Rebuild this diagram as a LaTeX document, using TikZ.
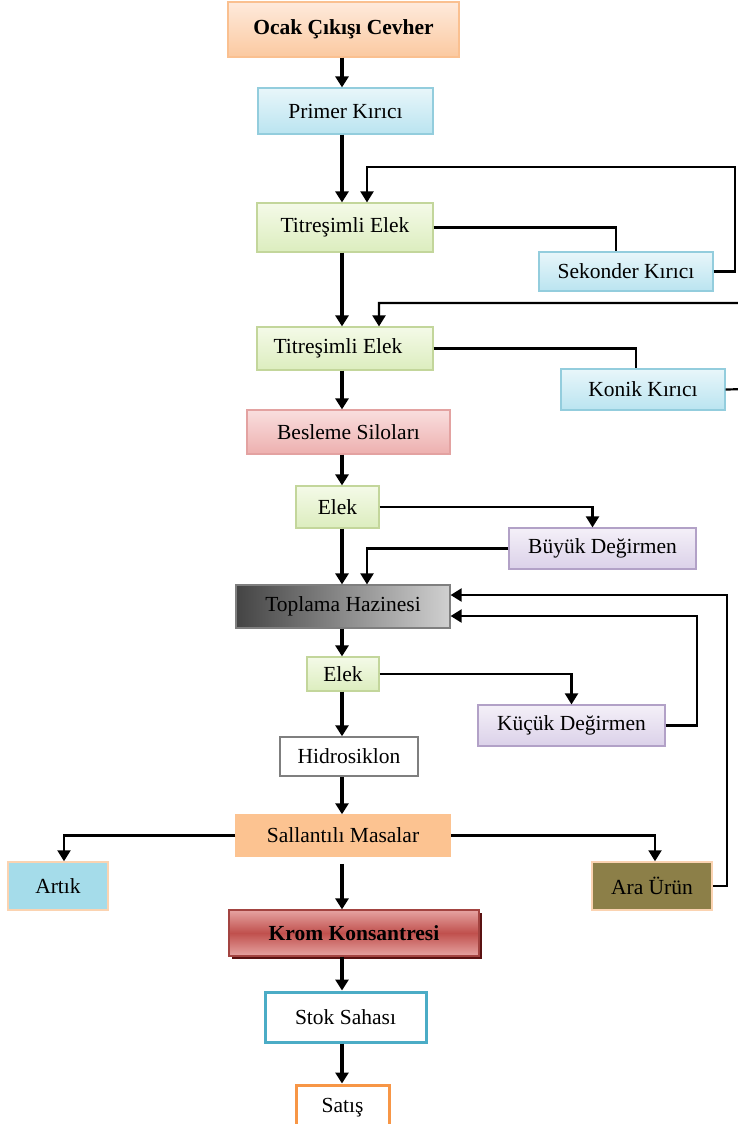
\documentclass[tikz,border=0pt]{standalone}
\usepackage{fontspec}
\setmainfont{Liberation Serif}
\usetikzlibrary{arrows.meta,shadows}

\definecolor{peachTop}{HTML}{FEEADC}
\definecolor{peachBot}{HTML}{FBC9A0}
\definecolor{peachLine}{HTML}{FAC090}
\definecolor{cyanTop}{HTML}{E8F6FA}
\definecolor{cyanBot}{HTML}{BAE4F0}
\definecolor{cyanLine}{HTML}{93CDDD}
\definecolor{greenTop}{HTML}{F4FAE8}
\definecolor{greenBot}{HTML}{DCEDBE}
\definecolor{greenLine}{HTML}{C3D69B}
\definecolor{pinkTop}{HTML}{F9DEDE}
\definecolor{pinkBot}{HTML}{EDB0AF}
\definecolor{pinkLine}{HTML}{E3A2A1}
\definecolor{lilacTop}{HTML}{F4F0F8}
\definecolor{lilacBot}{HTML}{DBD1E9}
\definecolor{lilacLine}{HTML}{B2A1C7}
\definecolor{grayDark}{HTML}{444444}
\definecolor{grayLight}{HTML}{D0D0D0}
\definecolor{grayLine}{HTML}{7F7F7F}
\definecolor{masaFill}{HTML}{FCC391}
\definecolor{artikFill}{HTML}{A5DCEA}
\definecolor{araFill}{HTML}{8C7F48}
\definecolor{kromMid}{HTML}{C0504D}
\definecolor{kromEdge}{HTML}{E6A4A2}
\definecolor{kromShadow}{HTML}{5A1212}
\definecolor{stokLine}{HTML}{4BACC6}
\definecolor{satisLine}{HTML}{F79646}

\tikzstyle{BoxNode}=[rectangle, inner sep=0pt, line width=1.2pt, font=\fontsize{21.5}{24}\selectfont]
\tikzstyle{PeachBox}=[BoxNode, draw=peachLine, top color=peachTop, bottom color=peachBot]
\tikzstyle{CyanBox}=[BoxNode, draw=cyanLine, top color=cyanTop, bottom color=cyanBot]
\tikzstyle{GreenBox}=[BoxNode, draw=greenLine, top color=greenTop, bottom color=greenBot]
\tikzstyle{PinkBox}=[BoxNode, draw=pinkLine, top color=pinkTop, bottom color=pinkBot]
\tikzstyle{LilacBox}=[BoxNode, draw=lilacLine, top color=lilacTop, bottom color=lilacBot]
\tikzstyle{GrayBox}=[BoxNode, draw=grayLine, left color=grayDark, right color=grayLight]
\tikzstyle{FlatBox}=[BoxNode, draw=peachLine!70!white, line width=1.5pt]
\tikzstyle{KromBox}=[BoxNode, draw=kromMid!85!black, top color=kromEdge, bottom color=kromEdge, middle color=kromMid, drop shadow={shadow xshift=3pt, shadow yshift=-3pt, fill=kromShadow, opacity=1}]
\tikzstyle{WhiteBox}=[BoxNode, fill=white, line width=3pt]
\tikzstyle{FlowEdge}=[-{Triangle[length=11pt,width=13pt]}, line width=3.2pt]
\tikzstyle{SideEdge}=[line width=2.2pt]
\tikzstyle{BackEdge}=[SideEdge, -{Triangle[length=11pt,width=13pt]}]

\begin{document}
\begin{tikzpicture}[x=1pt,y=-1pt]
\useasboundingbox (0,0) rectangle (737,1124);

\node[PeachBox, minimum width=231pt, minimum height=55pt](ocak) at (343.5,29.5) {\textbf{Ocak Çıkışı Cevher}};
\node[CyanBox, minimum width=175pt, minimum height=46pt](primer) at (345.5,111) {Primer Kırıcı};
\node[GreenBox, minimum width=176pt, minimum height=49pt](titresim1) at (345,227.5) {Titreşimli Elek};
\node[CyanBox, minimum width=174pt, minimum height=39pt](sekonder) at (626,271.5) {Sekonder Kırıcı};
\node[GreenBox, minimum width=176pt, minimum height=43pt](titresim2) at (345,348.5) {Titreşimli Elek\kern14pt};
\node[CyanBox, minimum width=164pt, minimum height=41pt](konik) at (643,389.5) {Konik Kırıcı};
\node[PinkBox, minimum width=203pt, minimum height=44pt](besleme) at (348.5,432) {Besleme Siloları};
\node[GreenBox, minimum width=83pt, minimum height=42pt](elek1) at (337.5,507) {Elek};
\node[LilacBox, minimum width=187pt, minimum height=41pt](buyuk) at (602.5,548.5) {Büyük Değirmen};
\node[GrayBox, minimum width=214pt, minimum height=43pt](toplama) at (343,606.5) {Toplama Hazinesi};
\node[GreenBox, minimum width=72pt, minimum height=34pt](elek2) at (343,674) {Elek};
\node[LilacBox, minimum width=187pt, minimum height=41pt](kucuk) at (571.5,725.5) {Küçük Değirmen};
\node[BoxNode, draw=grayLine, fill=white, line width=1.5pt, minimum width=138pt, minimum height=39pt](hidro) at (349,756.5) {Hidrosiklon};
\node[FlatBox, fill=masaFill, draw=masaFill, minimum width=214pt, minimum height=41pt](masa) at (343,835.5) {Sallantılı Masalar};
\node[FlatBox, fill=artikFill, minimum width=100pt, minimum height=48pt](artik) at (58,886) {Artık};
\node[FlatBox, fill=araFill, minimum width=120pt, minimum height=48pt](ara) at (652,886) {Ara Ürün};
\node[KromBox, minimum width=250pt, minimum height=46pt](krom) at (354,933) {\textbf{Krom Konsantresi}};
\node[WhiteBox, draw=stokLine, minimum width=161pt, minimum height=50pt](stok) at (345.5,1017) {Stok Sahası};
\node[WhiteBox, draw=satisLine, minimum width=93pt, minimum height=45pt](satis) at (342.5,1107.5) {Satış};

% main line
\coordinate (axis) at (342,0);
\draw[FlowEdge](axis |- ocak.south) -- (axis |- primer.north);
\draw[FlowEdge](axis |- primer.south) -- (axis |- titresim1.north);
\draw[FlowEdge](axis |- titresim1.south) -- (axis |- titresim2.north);
\draw[FlowEdge](axis |- titresim2.south) -- (axis |- besleme.north);
\draw[FlowEdge](axis |- besleme.south) -- (axis |- elek1.north);
\draw[FlowEdge](axis |- elek1.south) -- (axis |- toplama.north);
\draw[FlowEdge](axis |- toplama.south) -- (axis |- elek2.north);
\draw[FlowEdge](axis |- elek2.south) -- (axis |- hidro.north);
\draw[FlowEdge](axis |- hidro.south) -- (axis |- masa.north);
\draw[FlowEdge, shorten <=7pt](axis |- masa.south) -- (axis |- krom.north);
\draw[FlowEdge](axis |- krom.south) -- (axis |- stok.north);
\draw[FlowEdge](axis |- stok.south) -- (axis |- satis.north);

% crushers
\coordinate (loop1) at (367,167);
\coordinate (loop2) at (379,303);
\draw[SideEdge](titresim1.east) -| ([xshift=-10pt]sekonder.north);
\draw[BackEdge](sekonder.east) -| (735,167) -- (loop1) -- (loop1 |- titresim1.north);
\draw[SideEdge](titresim2.east) -| ([xshift=-7pt]konik.north);
\draw[BackEdge](konik.east) -- (750,389) |- (loop2) -- (loop2 |- titresim2.north);

% mills
\draw[BackEdge](elek1.east) -| ([xshift=-10pt]buyuk.north);
\draw[BackEdge](buyuk.west) -| ([xshift=24pt]toplama.north);
\draw[BackEdge](elek2.east) -| (kucuk.north);
\draw[BackEdge](kucuk.east) -- ++(31,0) |- ([yshift=-9.5pt]toplama.east);
\draw[BackEdge](ara.east) -- ++(14,0) |- ([yshift=11.5pt]toplama.east);

% tables
\draw[BackEdge](masa.west) -| ([xshift=6pt]artik.north);
\draw[BackEdge](masa.east) -| ([xshift=3pt]ara.north);
\end{tikzpicture}
\end{document}
